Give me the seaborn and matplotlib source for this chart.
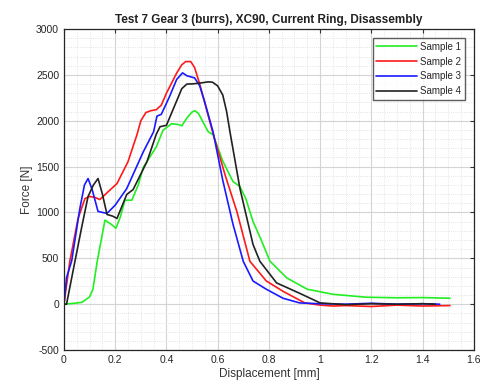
import numpy as np
import pandas as pd
import seaborn as sns
import matplotlib.pyplot as plt
from matplotlib.ticker import AutoMinorLocator

# displacement [mm] / force [N]
s1_x = [0, 0.04, 0.07, 0.1, 0.113, 0.13, 0.16, 0.18, 0.203, 0.22, 0.238, 0.265, 0.29, 0.31,
        0.36, 0.387, 0.42, 0.445, 0.46, 0.48, 0.5, 0.511, 0.525, 0.54, 0.563, 0.582, 0.62,
        0.66, 0.687, 0.71, 0.738, 0.77, 0.804, 0.87, 0.95, 1.05, 1.18, 1.3, 1.4, 1.507]
s1_f = [0, 10, 20, 80, 163, 470, 916, 880, 829, 950, 1134, 1134, 1300, 1494,
        1712, 1897, 1967, 1960, 1945, 2030, 2095, 2109, 2080, 2000, 1880, 1848, 1560,
        1337, 1283, 1150, 902, 700, 470, 286, 163, 108, 76, 70, 72, 65]

s2_x = [0, 0.005, 0.023, 0.055, 0.082, 0.1, 0.12, 0.14, 0.17, 0.207, 0.25, 0.285, 0.3,
        0.32, 0.34, 0.36, 0.38, 0.4, 0.44, 0.46, 0.475, 0.495, 0.51, 0.53, 0.58, 0.63,
        0.675, 0.726, 0.79, 0.855, 0.94, 1.0, 1.05, 1.1, 1.2, 1.3, 1.4, 1.507]
s2_f = [0, 108, 470, 935, 1152, 1174, 1165, 1141, 1220, 1315, 1554, 1848, 2000,
        2090, 2110, 2120, 2170, 2300, 2520, 2610, 2645, 2645, 2580, 2400, 1880, 1400,
        1011, 467, 253, 141, 14, -10, -20, -15, -25, -10, -20, -15]

s3_x = [0, 0.01, 0.03, 0.062, 0.08, 0.094, 0.11, 0.133, 0.168, 0.2, 0.245, 0.31, 0.35,
        0.363, 0.38, 0.41, 0.44, 0.463, 0.48, 0.51, 0.53, 0.55, 0.582, 0.62, 0.66, 0.7,
        0.738, 0.79, 0.855, 0.92, 1.0, 1.1, 1.2, 1.3, 1.4, 1.467]
s3_f = [0, 290, 470, 1043, 1300, 1370, 1250, 1011, 990, 1080, 1260, 1663, 1880,
        2050, 2070, 2250, 2450, 2522, 2490, 2467, 2380, 2200, 1880, 1350, 870, 467,
        253, 163, 65, 14, 5, 0, 10, 0, 5, 0]

s4_x = [0, 0.01, 0.043, 0.07, 0.094, 0.115, 0.133, 0.15, 0.168, 0.19, 0.207, 0.245, 0.27,
        0.324, 0.36, 0.375, 0.4, 0.43, 0.46, 0.48, 0.503, 0.53, 0.563, 0.58, 0.6, 0.62,
        0.635, 0.648, 0.687, 0.738, 0.765, 0.83, 0.92, 1.0, 1.1, 1.2, 1.3, 1.4, 1.45]
s4_f = [0, 0, 470, 850, 1174, 1300, 1370, 1200, 978, 960, 935, 1196, 1250,
        1554, 1850, 1935, 1950, 2150, 2350, 2400, 2402, 2410, 2424, 2420, 2380, 2280,
        2100, 1880, 1261, 652, 467, 232, 119, 14, -5, 5, 0, 5, 0]

samples = ["Sample 1", "Sample 2", "Sample 3", "Sample 4"]
colors = ["#22ee22", "#ff1a1a", "#1a1aff", "#222222"]

frames = []
for name, xs, fs in zip(samples, [s1_x, s2_x, s3_x, s4_x], [s1_f, s2_f, s3_f, s4_f]):
    frames.append(pd.DataFrame({"x": xs, "f": fs, "sample": name}))
df = pd.concat(frames, ignore_index=True)

sns.set_style("white")
plt.rcParams["font.family"] = ["Liberation Sans", "DejaVu Sans"]
plt.rcParams["axes.unicode_minus"] = False

fig = plt.figure(figsize=(4.81, 3.92), dpi=100)
ax = fig.add_axes([0.133, 0.107, 0.852, 0.819])

sns.lineplot(data=df, x="x", y="f", hue="sample", palette=colors, sort=False,
             estimator=None, linewidth=1.2, ax=ax)

ax.set_xlim(0, 1.6)
ax.set_ylim(-500, 3000)
ax.set_xticks(np.arange(0, 1.61, 0.2))
ax.set_xticklabels(["0", "0.2", "0.4", "0.6", "0.8", "1", "1.2", "1.4", "1.6"])
ax.set_yticks(np.arange(-500, 3001, 500))
ax.xaxis.set_minor_locator(AutoMinorLocator(4))
ax.yaxis.set_minor_locator(AutoMinorLocator(5))
ax.grid(which="major", color="#d4d4d4", linewidth=0.8, linestyle="-")
ax.grid(which="minor", color="#dcdcdc", linewidth=0.6, linestyle=":")
ax.set_axisbelow(True)
ax.tick_params(which="both", direction="in", top=True, right=True, labelsize=7.5,
               length=3, width=0.8, color="#333333")
ax.tick_params(which="minor", length=0)
for sp in ax.spines.values():
    sp.set_color("#262626")
    sp.set_linewidth(0.9)

ax.set_xlabel("Displacement [mm]", fontsize=8.5, color="#333333", labelpad=2)
ax.set_ylabel("Force [N]", fontsize=8.5, color="#333333", labelpad=2)
ax.set_title("Test 7 Gear 3 (burrs), XC90, Current Ring, Disassembly", fontsize=8.5,
             fontweight="bold", color="#222222", pad=4)

leg = ax.legend(loc="upper right", fontsize=7, handlelength=4.2, frameon=True,
                fancybox=False, edgecolor="#333333", borderaxespad=0.9, labelspacing=0.5,
                handletextpad=0.3)
leg.get_frame().set_linewidth(1.0)

fig.savefig("out.png", dpi=100)
